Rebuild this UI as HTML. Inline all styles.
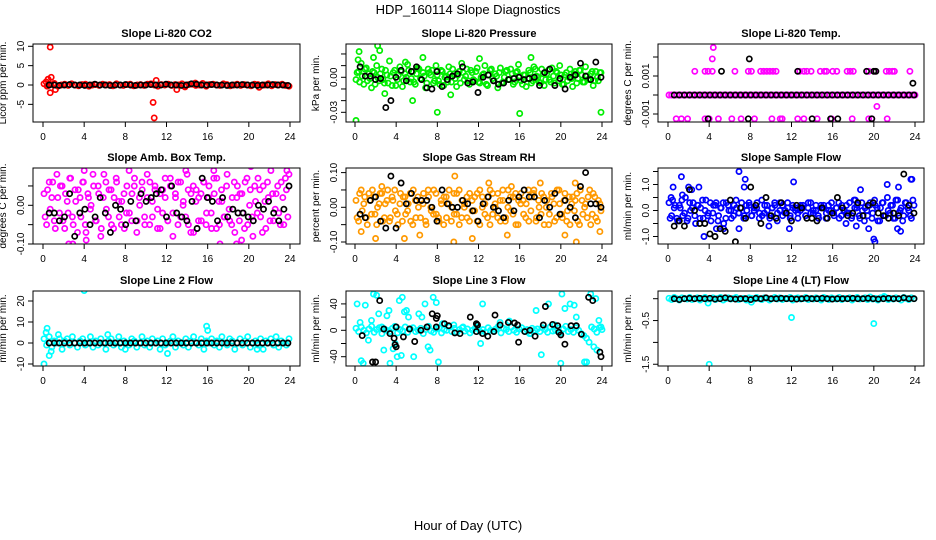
<!DOCTYPE html>
<html><head><meta charset="utf-8">
<style>
html,body{margin:0;padding:0;background:#fff;}
svg{display:block;font-family:"Liberation Sans",Arial,sans-serif;}
</style></head>
<body>
<svg id="chart" width="936" height="540" viewBox="0 0 936 540">
<text x="468" y="14" text-anchor="middle" font-size="13">HDP_160114  Slope Diagnostics</text>
<text x="468" y="530" text-anchor="middle" font-size="13">Hour of Day (UTC)</text>
</svg>
<script>
// ---------- data (values in the units noted per panel) ----------
const hourTicks = [0,4,8,12,16,20,24];
const panelTitles = ["Slope Li-820 CO2","Slope Li-820 Pressure","Slope Li-820 Temp.","Slope Amb. Box Temp.","Slope Gas Stream RH","Slope Sample Flow","Slope Line 2 Flow","Slope Line 3 Flow","Slope Line 4 (LT) Flow"];
const yTitles = ["Licor ppm per min.","kPa per min.","degrees C per min.","degrees C per min.","percent per min.","ml/min per min.","ml/min per min.","ml/min per min.","ml/min per min."];

// P1 CO2 (ppm/min)
const co2Bulk = [0.3,-0.2,0.1,0.4,-0.3,0,0.2,-0.1,0.3,0,-0.2,0.1,0.2,-0.3,0,0.1,-0.1,0.2,0,0.1,-0.2,0.3,0,-0.1,0.1,0.2,-0.2,0,0.1,-0.1,0.2,0.3,0,-0.3,0.1,0,0.2,-0.1,0.1,0,0.3,-0.2,0.1,0.2,-0.1,0,0.4,-0.3,0.1,0.2,0,-0.1,0.3,0.1,-0.2,0,0.2,-0.1,0.1,0,-0.2,0.2,0.1,-0.1,0,0.3,-0.2,0.1,0,0.2,-0.1,-0.3];
const co2OutT = [0.7,0.5,0.8,0.7,1.2,10.7,10.8,11.0,13.0,21.0,0.3,0.4,13.8,14.8];
const co2OutV = [9.8,1.5,2.0,-2.0,-1.2,-4.5,-8.5,1.2,-1.2,-0.6,0.8,-0.3,-0.5,0.5];
const co2Black = [0,0,-0.1,0,0.1,0,0,-0.1,0,0.2,0,0,-0.1,0,0,0.1,0,-0.1,0,0,0.1,0,0,0.2,0,0,-0.1,0,0.3,0.2,0,0,0.1,0,0,-0.1,0,0,0.1,0,0,-0.1,0,0,0.1,0,0,-0.1];

// P2 Pressure (0.001 kPa/min)
const presBulk = [-2,5,12,-6,8,3,-9,4,10,-3,7,-5,2,14,-7,6,-2,9,-8,3,11,-4,5,-6,8,-1,4,-9,7,2,-5,10,-3,6,-7,1,9,-4,3,-8,5,12,-2,7,-6,4,-3,8,-5,2,10,-7,6,-1,3,-9,8,-4,5,-2,7,-6,4,11,-3,2,-8,6,-5,9,1,-4,7,-7,3,-2,8,-5,4,10,-6,2,-3,7,-8,5,-1,6,-4,9,-2,3,-7,5,-3,4];
const presBulk2 = [4,-4,1,7,-3,-1,5,-6,0,3,-2,6,-5,1,4,-7,2,5,-3,0,6,-1,-4,3,7,-2,1,-5,4,6,-3,2,-6,5,0,-4,3,7,-1,2,-5,4,1,-3,6,-2,5,-4,0,3,-6,2,7,-3,1,4,-5,0,6,-2,3,-4,5,1,-6,2,-1,4,-3,7,0,-5,3,-2,6,-4,1,5,-3,2,-6,4,0,-1,3,-5,6,2,-4,1,-2,5,-3,0,4];
const presOutT = [0.1,2.2,2.4,0.4,1.8,6.6,5.6,8.0,16.0,23.9,17.1,12.1,9.3,2.9,0.3,4.9];
const presOutV = [-37,27,23,22,17,17,-20,-30,-31,-30,17,16,-15,-14,15,13];
const presBlack = [9,1,1,-2,-1,-26,-20,0,6,-3,5,9,-2,-9,-10,5,-8,-2,1,3,9,-5,-4,-13,0,2,-3,-6,-5,-2,-1,0,-2,-1,0,-7,4,7,-7,-1,-10,0,2,12,1,-2,13,0];

// P3 Li-820 Temp (0.001 C/min)
const tempBulk = [0,0,0,0,0,0,0,0,0,0,0,0,0,0,0,0,0,0,0,0,0,0,0,0,0,0,0,0,0,0,0,0,0,0,0,0,0,0,0,0,0,0,0,0,0,0,0,0,0,0,0,0,0,0,0,0,0,0,0,0,0,0,0,0,0,0,0,0,0,0,0,0,0,0,0,0,0,0,0,0,0,0,0,0,0,0,0,0,0,0,0,0,0,0,0,0];
const tempOutT = [2.6,3.6,3.9,4.3,4.4,4.3,6.5,7.8,8.1,9.0,9.3,9.6,9.9,10.2,10.5,12.8,13.2,13.5,13.9,14.8,15.2,15.4,16.0,16.4,17.4,17.7,18.0,19.5,20.1,21.2,21.5,21.8,22.0,23.5,0.8,1.3,1.9,3.6,4.0,4.9,6.2,7.1,8.4,10.1,10.9,11.1,12.6,13.2,14.5,15.9,17.9,19.5,19.8,21.3,20.3];
const tempOutV = [1.25,1.25,1.25,1.25,2.5,1.9,1.25,1.25,1.25,1.25,1.25,1.25,1.25,1.25,1.25,1.25,1.25,1.25,1.25,1.25,1.25,1.25,1.25,1.25,1.25,1.25,1.25,1.25,1.25,1.25,1.25,1.25,1.25,1.25,-1.25,-1.25,-1.25,-1.25,-1.25,-1.25,-1.25,-1.25,-1.25,-1.25,-1.25,-1.25,-1.25,-1.25,-1.25,-1.25,-1.25,-1.25,-1.25,-1.25,-0.6];
const tempBlack = [0,0,0,0,0,0,0,0,0,0,0,0,0,0,0,0,0,0,0,0,0,0,0,0,0,0,0,0,0,0,0,0,0,0,0,0,0,0,0,0,0,0,0,0,0,0,0,0];
const tempBlackOutT = [5.2,12.6,19.3,20.0,20.2,7.9,23.8,3.9,7.8,14.0,15.8,16.5,19.8];
const tempBlackOutV = [1.25,1.25,1.25,1.25,1.25,1.9,0.62,-1.25,-1.25,-1.25,-1.25,-1.25,-1.25];

// P4 Amb box temp (0.01 C/min)
const ambBulk = [3,-5,6,2,-4,8,-2,5,-6,1,7,-3,4,-7,2,6,-5,3,-1,8,-4,5,-8,2,6,-3,4,-6,7,1,-5,3,-2,9,-4,5,-7,2,6,-3,8,-5,1,4,-6,3,-2,7,-4,5,-8,2,6,-3,1,9,-5,3,-7,4,2,-4,6,-2,5,-6,3,7,-5,1,-3,8,-4,2,-7,5,3,-2,6,-5,4,-8,1,7,-3,5,-6,2,9,-4,3,-2,6,-5,4,8];
const ambBulk2 = [-3,4,-1,6,-6,2,5,-4,3,-2,7,-5,1,4,-3,6,-7,2,0,5,-4,3,-6,8,-1,4,-5,2,6,-3,1,-6,5,-2,3,7,-4,0,4,-5,2,6,-3,5,-1,-6,4,2,-4,7,-2,3,-5,6,0,-3,4,-7,5,1,-4,3,6,-5,2,-2,7,-6,1,4,-3,5,-1,-5,6,2,-4,3,-6,7,0,-3,5,-2,4,-7,1,6,-4,3,-1,5,-5,2,7,-3];
const ambOutT = [1.2,6.6,11.9,12.3,23.5,23.7,7.6,9.6,2.5,17.2,18.8,19.3,4.0,20.2,14.0,16.6,2.9,4.2];
const ambOutV = [11,13,14,12,12,9,-14,-12,-10,-10,-10,-9,9,10,8,9,-10,-9];
const ambBlack = [-2,-2,-4,-3,3,-8,-2,-1,-5,-3,2,-2,-7,0,-1,-5,1,-4,3,1,2,3,4,-3,5,-2,-3,-4,1,-6,7,2,1,-4,2,-3,-1,-2,-2,-3,-4,0,-1,1,-2,-4,-1,5];

// P5 Gas stream RH (0.01 %/min)
const rhBulk = [2,-4,5,1,-3,4,-2,3,-5,1,4,-3,2,-4,3,5,-2,1,-4,3,-1,4,-5,2,3,-3,1,-4,5,0,-2,4,-3,2,-5,3,1,-4,4,-2,5,-3,0,3,-4,2,-1,4,-5,3,1,-3,5,-2,0,4,-4,2,-3,5,-1,3,-5,2,4,-2,1,-4,3,5,-3,0,4,-5,2,-2,3,-4,5,1,-3,4,-1,-5,3,2,-4,5,-2,1,3,-5,4,-3,2,-1];
const rhBulk2 = [-3,4,-1,3,-5,2,5,-2,0,4,-4,1,5,-3,2,-1,-5,4,3,-2,1,-4,5,-3,0,2,4,-5,3,-1,5,-2,-4,1,3,-3,5,0,-2,4,-5,2,1,-3,4,-1,3,-4,5,0,-2,3,-5,4,1,-3,2,5,-4,0,3,-2,4,-5,1,2,-3,5,-1,4,-4,2,-2,3,0,-5,4,1,-3,5,-2,2,-4,3,1,-1,4,-5,2,0,-3,5,-2,3,-4,1];
const rhOutT = [9.7,9.6,21.5,2.0,4.8,6.3,0.6,21.4,13.0,18.0,23.8,20.4,11.4,14.8,2.6,15.2];
const rhOutV = [9,-10,-10,-9,-9,-8,-7,7,7,7,-7,-8,-9,-8,6,6];
const rhBlack = [-2,-3,2,3,-4,-6,9,-6,7,1,4,2,2,2,0,-4,5,1,0,0,2,1,-1,-4,1,3,0,-1,-3,2,-1,3,5,3,3,-3,2,0,4,-2,2,0,-3,6,10,1,1,0];

// P6 Sample flow (0.1 ml/min per min)
const sfBulk = [3,-2,1,-3,2,4,-1,-4,3,1,-2,2,-3,4,0,-2,3,-1,2,-4,1,3,-3,2,0,-2,4,-1,1,-3,2,3,-2,0,1,-3,4,-1,2,-2,1,3,-4,0,2,-1,3,-2,1,0,-3,2,1,-2,3,-1,0,2,-3,1,2,-1,0,3,-2,1,-3,2,0,-1,3,-2,1,2,-3,0,1,-2,3,-1,2,-4,1,3,-2,0,2,-3,4,-1,1,-2,3,0,-3,2];
const sfBulk2 = [-3,4,2,-4,1,-2,5,-3,0,3,-5,2,1,-3,4,-1,-4,2,3,-2,1,-5,3,0,-3,2,1,-1,3,-2,0,2,-2,1,3,-1,-2,2,0,-3,1,2,-1,3,-2,0,1,-3,2,1,-1,0,2,-2,1,3,-1,0,-2,2,1,-3,2,0,-1,1,3,-2,0,2,-1,-3,4,1,-2,3,-4,0,2,-3,4,1,-4,3,-2,5,-1,2,-3,4,0,-4,3,1,-2,4];
const sfOutT = [0.5,1.3,2.0,2.3,3.0,6.9,7.5,12.2,21.3,22.4,23.6,23.7,3.5,4.7,5.4,6.9,9.8,11.8,19.5,20.0,20.1,22.6,22.3,17.3,18.3,1.4,18.7,18.2,7.4,0.3];
const sfOutV = [9,13,9,8,9,15,12,11,10,9,12,12,-10,-7,-7,-7,-6,-7,-7,-11,-12,-8,-7,-5,-6,6,8,4,9,5];
const sfBlack = [-6,-4,-6,8,0,-5,-5,-9,-10,-7,-8,4,-12,1,-3,9,2,-5,5,-2,-3,3,-1,-4,2,1,-3,-3,-4,1,-3,-1,5,1,-2,-1,3,-2,2,3,-1,-2,-3,-1,-2,14,2,-1];

// P7 Line 2 flow (ml/min per min)
const l2Bulk = [2,-1,3,-2,1,0,2,-3,1,2,-1,3,0,-2,1,2,-1,0,3,-2,1,-1,2,0,-3,1,2,-1,0,3,-2,1,0,-1,2,1,-2,0,3,-1,1,-2,2,0,1,-3,2,-1,0,1,3,-2,1,0,-1,2,-2,1,3,0,-1,2,-3,1,0,2,-1,1,-2,3,0,-1,2,1,-3,0,2,-1,1,3,-2,0,1,-1,2,-3,1,0,2,-1,3,-2,1,0,-1,2];
const l2OutT = [0.1,0.3,0.4,0.6,0.8,4.0,15.9,16.0,12.1,8.0,20.8,6.3,1.5];
const l2OutV = [-10,5,7,-6,-4,25,8,6,-5,-3,-3,4,4];
const l2Black = [0,0,0,0,0,0,0,0,0,0,0,0,0,0,0,0,0,0,0,0,0,0,0,0,0,0,0,0,0,0,0,0,0,0,0,0,0,0,0,0,0,0,0,0,0,0,0,0];

// P8 Line 3 flow (ml/min per min)
const l3Bulk = [3,-2,5,0,-4,2,6,-3,1,4,-5,2,0,-2,3,6,-4,1,-1,5,-3,2,4,-2,0,3,-5,1,6,-1,-3,2,4,-4,1,0,5,-2,3,-3,1,4,-1,2,-4,0,3,5,-2,1,-3,4,0,-1,2,6,-4,3,1,-2,5,0,-3,2,4,-1,1,-5,3,0,2,-2,4,1,-3,5,-1,0,3,-4,2,6,-2,1,-3,4,0,-5,-8,-12,-18,5,2,-3,4,1];
const l3OutT = [0.2,0.5,0.6,0.8,1.0,1.3,1.6,1.8,2.1,2.3,2.6,2.8,3.1,3.3,3.4,3.7,3.9,4.1,4.3,4.5,4.6,4.8,5.0,5.2,5.7,6.2,6.5,6.8,7.1,7.3,7.6,7.9,8.1,8.5,9.6,10.5,12.4,12.2,14.1,15.0,17.1,17.6,18.1,18.8,19.4,20.0,20.1,20.4,20.9,21.3,21.5,22.3,22.5,22.9,23.4,23.5,23.7,23.9,23.2];
const l3OutV = [40,12,-46,-50,38,-15,15,55,53,25,5,-30,22,30,-50,-28,-20,-40,45,-38,50,28,30,20,-40,25,20,40,-25,-30,50,42,-48,10,8,5,40,-20,12,14,-5,30,-37,40,8,-50,55,33,40,38,20,-48,-48,55,48,-30,15,5,-25];
const l3BlackT = [0.7,1.7,2.0,2.4,2.8,3.4,3.8,4.0,3.9,4.0,4.7,5.3,5.8,6.4,7.0,7.5,7.9,7.9,8.0,8.7,9.1,9.7,10.2,11.2,11.8,11.9,11.8,12.4,12.9,13.5,13.6,14.1,14.9,15.5,15.8,15.9,16.5,17.0,17.5,18.3,18.5,19.2,19.7,19.8,20.0,20.4,21.0,21.5,22.0,22.7,23.1,23.8,23.9];
const l3BlackV = [-8,-48,-48,45,2,-5,-12,5,-22,-25,-10,2,-17,0,5,25,18,5,22,10,7,-4,-5,20,-2,8,10,-5,-9,-2,23,8,12,11,8,-18,-2,0,-9,8,36,9,7,-3,-7,-21,7,7,-6,50,45,-33,-40];

// P9 Line 4 flow (0.01 ml/min per min)
const l4Bulk = [1,-2,3,0,-3,2,1,-1,3,-2,0,2,-3,1,3,-1,0,2,-2,1,3,-3,0,2,-1,1,3,-2,0,1,-3,2,1,-1,3,0,-2,2,1,-3,0,3,-1,2,-2,1,0,3,-3,1,2,-1,0,3,-2,1,-1,2,0,-3,3,1,-2,2,0,-1,3,-2,1,0,2,-3,1,3,-1,0,2,-2,4,-1,1,-3,2,0,3,-2,1,-1,2,0,-3,3,1,-2,2,0];
const l4OutT = [4.0,12.0,20.0,3.9,8.1,21.0];
const l4OutV = [-150,-43,-57,-10,-8,5];
const l4Black = [0,-2,0,1,0,1,0,1,-1,0,2,0,-1,0,0,-2,1,0,2,0,0,1,0,0,-1,0,1,0,0,1,0,-1,0,0,0,1,0,0,1,0,-1,0,1,0,0,2,0,0];

// ---------- layout ----------
const cols = [{l:33,r:300,x0:43,x24:290},{l:346,r:612,x0:355,x24:602},{l:658,r:924,x0:668,x24:915}];
const rows = [{t:44,b:122},{t:168,b:244},{t:291,b:366}];
const yScales = [
 {z:85,k:3.87,ticks:[-5,0,5,10],labels:{"-5":"-5","0":"0","5":"5","10":"10"}},
 {z:77.3,k:1.167,ticks:[-30,-20,-10,0,10,20],labels:{"-30":"-0.03","0":"0.00"}},
 {z:95,k:19,ticks:[-1,0,1,2],labels:{"-1":"-0.001","1":"0.001"}},
 {z:205.3,k:3.87,ticks:[-10,-5,0,5],labels:{"-10":"-0.10","0":"0.00"}},
 {z:207.3,k:3.47,ticks:[-10,-5,0,5,10],labels:{"-10":"-0.10","0":"0.00","10":"0.10"}},
 {z:210.5,k:2.6,ticks:[-10,-5,0,5,10,15],labels:{"-10":"-1.0","0":"0.0","10":"1.0"}},
 {z:343,k:2.1,ticks:[-10,0,10,20],labels:{"-10":"-10","0":"0","10":"10","20":"20"}},
 {z:330.3,k:0.66,ticks:[-40,-20,0,20,40],labels:{"-40":"-40","0":"0","40":"40"}},
 {z:298.7,k:0.437,ticks:[-150,-100,-50,0],labels:{"-150":"-1.5","-50":"-0.5"}}
];
const RED="#ff0000",GRN="#00ee00",MAG="#ff00ff",ORG="#ff9900",BLU="#0000ff",CYN="#00ffff",BLK="#000000";

function even(vals,t0,t1){return vals.map((v,i)=>[t0+i*(t1-t0)/Math.max(1,vals.length-1),v]);}
function pairs(ts,vs){return ts.map((t,i)=>[t,vs[i]]);}

const panels = [
 [[even(co2Bulk,0.1,23.9),RED],[pairs(co2OutT,co2OutV),RED],[even(co2Black,0.6,23.8),BLK]],
 [[even(presBulk,0.1,23.9),GRN],[even(presBulk2,0.2,23.8),GRN],[pairs(presOutT,presOutV),GRN],[even(presBlack,0.5,23.9),BLK]],
 [[even(tempBulk,0.1,24),MAG],[pairs(tempOutT,tempOutV),MAG],[even(tempBlack,0.6,23.9),BLK],[pairs(tempBlackOutT,tempBlackOutV),BLK]],
 [[even(ambBulk,0.1,23.9),MAG],[even(ambBulk2,0.2,23.8),MAG],[pairs(ambOutT,ambOutV),MAG],[even(ambBlack,0.6,23.9),BLK]],
 [[even(rhBulk,0.1,23.9),ORG],[even(rhBulk2,0.2,23.8),ORG],[pairs(rhOutT,rhOutV),ORG],[even(rhBlack,0.5,23.9),BLK]],
 [[even(sfBulk,0.1,23.9),BLU],[even(sfBulk2,0.2,23.8),BLU],[pairs(sfOutT,sfOutV),BLU],[even(sfBlack,0.6,23.9),BLK]],
 [[even(l2Bulk,0.1,23.9),CYN],[pairs(l2OutT,l2OutV),CYN],[even(l2Black,0.6,23.8),BLK]],
 [[even(l3Bulk,0.1,24),CYN],[pairs(l3OutT,l3OutV),CYN],[pairs(l3BlackT,l3BlackV),BLK]],
 [[even(l4Bulk,0.1,23.9),CYN],[pairs(l4OutT,l4OutV),CYN],[even(l4Black,0.6,23.9),BLK]]
];

const svg=document.getElementById('chart');
const NS="http://www.w3.org/2000/svg";
function mk(tag,attrs,parent){const e=document.createElementNS(NS,tag);for(const k in attrs)e.setAttribute(k,attrs[k]);parent.appendChild(e);return e;}

panels.forEach((series,p)=>{
  const c=cols[p%3], r=rows[Math.floor(p/3)], ys=yScales[p];
  const xS=h=>c.x0+h*(c.x24-c.x0)/24;
  const yS=v=>ys.z-v*ys.k;
  const g=mk('g',{},svg);
  
  
  const title=mk('text',{x:(c.l+c.r)/2,y:r.t-7,'text-anchor':'middle','font-size':'11','font-weight':'bold'},g);
  title.textContent=panelTitles[p];
  
  
  const cx=c.l-27, cy=(r.t+r.b)/2;
  const yt=mk('text',{x:cx,y:cy,'text-anchor':'middle','font-size':'10',transform:`rotate(-90 ${cx} ${cy})`},g);
  yt.textContent=yTitles[p];
  
  
  // points clipped
  const clipId='clip'+p;
  const cp=mk('clipPath',{id:clipId},g);
  mk('rect',{x:c.l,y:r.t,width:c.r-c.l,height:r.b-r.t},cp);
  const pg=mk('g',{'clip-path':`url(#${clipId})`},g);
  series.forEach(([pts,col])=>{
    pts.forEach(([t,v])=>{
      const ci=mk('circle',{cx:xS(t).toFixed(1),cy:yS(v).toFixed(1),r:2.6,fill:'none',stroke:col,'stroke-width':1.7},pg);
      
      
    });
  });
  // box
  const box=mk('rect',{x:c.l,y:r.t,width:c.r-c.l,height:r.b-r.t,fill:'none',stroke:'#000','stroke-width':1},g);
  
  
  // x axis
  hourTicks.forEach(h=>{
    const x=xS(h);
    mk('line',{x1:x,y1:r.b,x2:x,y2:r.b+5,stroke:'#000'},g);
    const tl=mk('text',{x:x,y:r.b+18,'text-anchor':'middle','font-size':'10'},g);
    tl.textContent=h;
    
    
  });
  // y axis
  ys.ticks.forEach(v=>{
    const y=yS(v);
    mk('line',{x1:c.l,y1:y,x2:c.l-5,y2:y,stroke:'#000'},g);
    const lab=ys.labels[String(v)];
    if(lab!==undefined){
      const tx=c.l-9;
      const tl=mk('text',{x:tx,y:y,'text-anchor':'middle','font-size':'10',transform:`rotate(-90 ${tx} ${y})`},g);
      tl.textContent=lab;
      
      
    }
  });
});
</script>
</body></html>
